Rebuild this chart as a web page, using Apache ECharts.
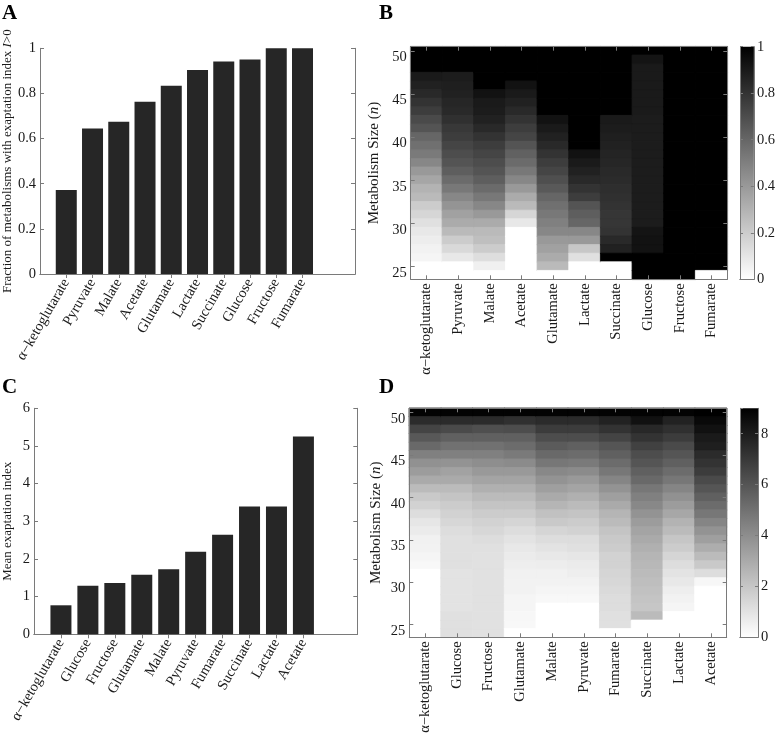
<!DOCTYPE html>
<html><head><meta charset="utf-8">
<script src="https://cdn.jsdelivr.net/npm/echarts@6/dist/echarts.min.js"></script>
<style>html,body{margin:0;padding:0;background:#fff}#c{width:778px;height:736px}</style>
</head><body><div id="c"></div>
<script>
// ---------- Panel A: fraction of metabolisms with I>0 ----------
const namesA = ['α−ketoglutarate','Pyruvate','Malate','Acetate','Glutamate','Lactate','Succinate','Glucose','Fructose','Fumarate'];
const fractionA = [0.372,0.645,0.675,0.763,0.834,0.904,0.941,0.95,1.0,1.0];
const ticksA = [0,0.2,0.4,0.6,0.8,1];

// ---------- Panel C: mean exaptation index ----------
const namesC = ['α−ketoglutarate','Glucose','Fructose','Glutamate','Malate','Pyruvate','Fumarate','Succinate','Lactate','Acetate'];
const meanC = [0.77,1.29,1.36,1.58,1.73,2.19,2.64,3.39,3.39,5.25];
const ticksC = [0,1,2,3,4,5,6];

// ---------- Metabolism sizes (rows, top to bottom) ----------
const sizes = [50,49,48,47,46,45,44,43,42,41,40,39,38,37,36,35,34,33,32,31,30,29,28,27,26,25,24];
const sizeTicks = [25,30,35,40,45,50];

// ---------- Panel B: fraction per size (columns in namesA order, rows n=50..24) ----------
const b_aKG      = [1,1,1,0.9,0.87,0.84,0.8,0.76,0.71,0.67,0.6,0.56,0.52,0.47,0.4,0.35,0.3,0.27,0.2,0.16,0.12,0.09,0.07,0.05,0.04,0,0];
const b_Pyruvate = [1,1,1,0.89,0.88,0.87,0.85,0.84,0.81,0.78,0.76,0.73,0.7,0.67,0.63,0.58,0.53,0.47,0.42,0.37,0.33,0.27,0.2,0.15,0.09,0,0];
const b_Malate   = [1,1,1,1,1,0.93,0.9,0.89,0.87,0.84,0.8,0.76,0.73,0.7,0.67,0.63,0.58,0.53,0.47,0.4,0.33,0.27,0.25,0.2,0.13,0.06,0];
const b_Acetate  = [1,1,1,1,0.93,0.9,0.87,0.84,0.8,0.76,0.73,0.67,0.62,0.58,0.53,0.47,0.4,0.33,0.27,0.16,0.09,0,0,0,0,0,0];
const b_Glutamate= [1,1,1,1,1,1,1,1,0.93,0.9,0.87,0.84,0.8,0.76,0.73,0.69,0.65,0.6,0.56,0.53,0.5,0.47,0.4,0.37,0.33,0.27,0];
const b_Lactate  = [1,1,1,1,1,1,1,1,1,1,1,1,0.93,0.9,0.87,0.84,0.8,0.76,0.67,0.63,0.6,0.47,0.4,0.22,0.12,0,0];
const b_Succinate= [1,1,1,1,1,1,1,1,0.9,0.89,0.88,0.87,0.86,0.85,0.84,0.83,0.82,0.81,0.8,0.79,0.79,0.8,0.84,0.87,1,0,0];
const b_Glucose  = [1,0.92,0.9,0.9,0.9,0.9,0.9,0.9,0.89,0.89,0.89,0.89,0.89,0.89,0.89,0.89,0.89,0.89,0.89,0.89,0.89,0.92,0.93,0.93,1,1,1];
const b_Fructose = [1,1,1,1,1,1,1,1,1,1,1,1,1,1,1,1,1,1,1,1,1,1,1,1,1,1,1];
const b_Fumarate = [1,1,1,1,1,1,1,1,1,1,1,1,1,1,1,1,1,1,1,1,1,1,1,1,1,1,0];
const cbMaxB = 1;
const cbTicksB = [0,0.2,0.4,0.6,0.8,1];

// ---------- Panel D: mean index per size (columns in namesC order, rows n=50..24) ----------
const d_aKG      = [8.9,7.5,6.6,5.9,5.3,4.5,3.9,3.5,3.0,2.4,1.9,1.6,1.2,0.9,0.7,0.5,0.45,0.35,0.25,0,0,0,0,0,0,0,0];
const d_Glucose  = [8.9,7.5,6.4,5.6,5.0,4.5,3.8,3.3,3.0,2.4,2.1,1.8,1.6,1.4,1.2,1.1,1.1,1.1,1.1,1.0,1.0,1.0,1.0,1.0,1.1,1.1,1.1];
const d_Fructose = [8.9,7.5,6.2,5.6,5.0,4.5,4.0,3.6,3.2,2.8,2.4,2.1,1.8,1.6,1.4,1.2,1.1,1.05,1.05,1.05,1.05,1.05,1.05,1.05,1.05,1.05,1.05];
const d_Glutamate= [8.9,7.3,6.3,5.6,5.2,4.7,4.1,3.6,3.2,2.8,2.4,2.1,1.8,1.5,1.2,1.0,0.8,0.7,0.6,0.5,0.45,0.45,0.35,0.35,0.3,0.25,0];
const d_Malate   = [8.9,7.5,6.9,6.3,5.8,5.3,4.8,4.2,3.8,3.4,3.0,2.6,2.2,1.9,1.5,1.2,1.0,0.8,0.65,0.5,0.45,0.35,0.25,0,0,0,0];
const d_Pyruvate = [8.9,7.5,6.9,6.3,5.6,5.2,4.7,4.1,3.6,3.2,2.8,2.4,2.1,1.8,1.6,1.2,1.1,0.9,0.7,0.6,0.45,0.35,0.25,0,0,0,0];
const d_Fumarate = [8.9,7.8,7.2,6.6,6.0,5.6,5.2,4.8,4.3,3.8,3.4,3.0,2.6,2.4,2.1,1.9,1.8,1.6,1.6,1.5,1.4,1.3,1.2,1.2,1.1,1.1,0];
const d_Succinate= [8.9,8.4,7.6,7.2,6.7,6.3,6.0,5.6,5.3,4.8,4.5,4.2,3.8,3.5,3.2,3.0,2.8,2.6,2.5,2.4,2.3,2.2,2.1,2.0,2.4,0,0];
const d_Lactate  = [8.9,7.8,7.3,6.9,6.4,6.0,5.6,5.2,4.8,4.3,3.9,3.5,3.1,2.7,2.4,2.0,1.8,1.5,1.2,1.0,0.8,0.6,0.45,0.35,0,0,0];
const d_Acetate  = [9.0,8.7,8.4,8.1,7.9,7.5,7.2,6.9,6.4,6.0,5.6,5.2,4.8,4.3,3.8,3.4,2.9,2.4,1.9,1.2,0.3,0,0,0,0,0,0];
const cbMaxD = 9;
const cbTicksD = [0,2,4,6,8];

// ---------- styling ----------
const FONT = 'Liberation Serif';
const AX = '#7a7a7a';
const TXT = '#1a1a1a';
const FS = 14.5;

const colsB = [b_aKG,b_Pyruvate,b_Malate,b_Acetate,b_Glutamate,b_Lactate,b_Succinate,b_Glucose,b_Fructose,b_Fumarate];
const colsD = [d_aKG,d_Glucose,d_Fructose,d_Glutamate,d_Malate,d_Pyruvate,d_Fumarate,d_Succinate,d_Lactate,d_Acetate];
// cell border painted in the cell's own grey so that neighbouring cells leave no hairline seams
function seamColor(v, max){ const g = Math.round(255 * (1 - Math.min(v / max, 1))); return 'rgb(' + g + ',' + g + ',' + g + ')'; }
function cells(cols, max){
  const out = [];
  cols.forEach((col, c) => col.forEach((v, k) => out.push({value:[c, k, v], itemStyle:{borderColor:seamColor(v, max), borderWidth:0.8}})));
  return out;
}

const grids = [
  {left:36.7, top:48.3, width:318.3, height:225.7},   // A
  {left:410.7, top:46.7, width:316.6, height:232.6},  // B
  {left:740, top:46.7, width:17.7, height:232.6},     // B colorbar
  {left:33.3, top:408.3, width:324, height:226},      // C
  {left:409.3, top:408.3, width:317.4, height:229},   // D
  {left:740, top:408.3, width:18, height:229}         // D colorbar
];

const line = {show:true, lineStyle:{color:AX, width:1}};
const lbl = (extra) => Object.assign({fontFamily:FONT, fontSize:FS, color:TXT}, extra);

function barX(gi, names, pos, showLabels){
  return {type:'category', gridIndex:gi, position:pos, data:['',...names,'',''], boundaryGap:false,
    axisLine:line,
    axisTick:{show:true, inside:true, length:4, interval:(i)=>i>=1 && i<=names.length, lineStyle:{color:AX}},
    axisLabel:lbl({show:showLabels, interval:0, rotate:60, margin:6}),
    splitLine:{show:false}};
}
function valY(gi, pos, ticks, showLabels, name, nameGap, nameSize){
  const o = {type:'value', gridIndex:gi, position:pos, min:ticks[0], max:ticks[ticks.length-1], interval:ticks[1]-ticks[0],
    axisLine:line,
    axisTick:{show:true, inside:true, length:4, lineStyle:{color:AX}},
    axisLabel:lbl({show:showLabels, margin:4}),
    splitLine:{show:false}};
  if (name){
    o.name = name; o.nameLocation='middle'; o.nameGap=nameGap;
    o.nameTextStyle = {fontFamily:FONT, fontSize:nameSize, color:TXT,
      rich:{it:{fontFamily:FONT, fontSize:nameSize, fontStyle:'italic', color:TXT}}};
  }
  return o;
}
function heatX(gi, names, pos, showLabels){
  return {type:'category', gridIndex:gi, position:pos, data:names,
    axisLine:line,
    axisTick:{show:true, inside:true, length:4, interval:0, alignWithLabel:true, lineStyle:{color:AX}},
    axisLabel:lbl({show:showLabels, interval:0, rotate:90, margin:4}),
    splitLine:{show:false}, z:5};
}
function heatY(gi, pos, showLabels, name, nameGap){
  const f = (i, v) => sizeTicks.indexOf(Number(v)) >= 0;
  const o = {type:'category', gridIndex:gi, position:pos, data:sizes, inverse:true,
    axisLine:line,
    axisTick:{show:true, inside:true, length:4, interval:f, alignWithLabel:true, lineStyle:{color:AX}},
    axisLabel:lbl({show:showLabels, interval:f, margin:4, verticalAlign:'top', lineHeight:13}),
    splitLine:{show:false}, z:5};
  if (name){
    o.name = name; o.nameLocation='middle'; o.nameGap=nameGap;
    o.nameTextStyle = {fontFamily:FONT, fontSize:15, color:TXT,
      rich:{it:{fontFamily:FONT, fontSize:15, fontStyle:'italic', color:TXT}}};
  }
  return o;
}
function cbX(gi, pos){
  return {type:'category', gridIndex:gi, position:pos, data:['cb'], axisLine:line,
    axisTick:{show:false}, axisLabel:{show:false}, splitLine:{show:false}, z:5};
}
function cbY(gi, pos, ticks, max, showLabels){
  return {type:'value', gridIndex:gi, position:pos, min:0, max:max, interval:ticks[1]-ticks[0],
    axisLine:line,
    axisTick:{show:true, inside:true, length:3, lineStyle:{color:AX}},
    axisLabel:lbl({show:showLabels, margin:3, showMaxLabel: ticks[ticks.length-1] === max}),
    splitLine:{show:false}, z:5};
}

const xAxis = [
  barX(0, namesA, 'bottom', true), barX(0, namesA, 'top', false),
  heatX(1, namesA, 'bottom', true), heatX(1, namesA, 'top', false),
  cbX(2,'bottom'), cbX(2,'top'),
  barX(3, namesC, 'bottom', true), barX(3, namesC, 'top', false),
  heatX(4, namesC, 'bottom', true), heatX(4, namesC, 'top', false),
  cbX(5,'bottom'), cbX(5,'top')
];
const yAxis = [
  valY(0,'left',ticksA,true,'Fraction of metabolisms with exaptation index {it|I}>0',24,13), valY(0,'right',ticksA,false),
  heatY(1,'left',true,'Metabolism Size ({it|n})',29), heatY(1,'right',false),
  cbY(2,'left',cbTicksB,cbMaxB,false), cbY(2,'right',cbTicksB,cbMaxB,true),
  valY(3,'left',ticksC,true,'Mean exaptation index',20,13), valY(3,'right',ticksC,false),
  heatY(4,'left',true,'Metabolism Size ({it|n})',26), heatY(4,'right',false),
  cbY(5,'left',cbTicksD,cbMaxD,false), cbY(5,'right',cbTicksD,cbMaxD,true)
];

const grad = () => new echarts.graphic.LinearGradient(0,0,0,1,[{offset:0,color:'#000000'},{offset:1,color:'#ffffff'}]);

const option = {
  animation:false,
  backgroundColor:'#ffffff',
  grid: grids,
  xAxis, yAxis,
  visualMap:[
    {type:'continuous', show:false, seriesIndex:1, dimension:2, min:0, max:cbMaxB, inRange:{color:['#ffffff','#000000']}},
    {type:'continuous', show:false, seriesIndex:4, dimension:2, min:0, max:cbMaxD, inRange:{color:['#ffffff','#000000']}}
  ],
  series:[
    {type:'bar', xAxisIndex:0, yAxisIndex:0, data:['-',...fractionA,'-','-'], barWidth:21, itemStyle:{color:'#262626'}, silent:true},
    {type:'heatmap', xAxisIndex:2, yAxisIndex:2, data:cells(colsB, cbMaxB), silent:true, progressive:0},
    {type:'bar', xAxisIndex:4, yAxisIndex:4, data:[cbMaxB], barWidth:'100%', itemStyle:{color:grad()}, silent:true},
    {type:'bar', xAxisIndex:6, yAxisIndex:6, data:['-',...meanC,'-','-'], barWidth:21, itemStyle:{color:'#262626'}, silent:true},
    {type:'heatmap', xAxisIndex:8, yAxisIndex:8, data:cells(colsD, cbMaxD), silent:true, progressive:0},
    {type:'bar', xAxisIndex:10, yAxisIndex:10, data:[cbMaxD], barWidth:'100%', itemStyle:{color:grad()}, silent:true}
  ],
  graphic:[
    {type:'text', left:2, top:3, style:{text:'A', font:'bold 21px "Liberation Serif"', fill:'#000'}},
    {type:'text', left:379, top:3, style:{text:'B', font:'bold 21px "Liberation Serif"', fill:'#000'}},
    {type:'text', left:2, top:377, style:{text:'C', font:'bold 21px "Liberation Serif"', fill:'#000'}},
    {type:'text', left:379, top:377, style:{text:'D', font:'bold 21px "Liberation Serif"', fill:'#000'}}
  ]
};
const chart = echarts.init(document.getElementById('c'));
chart.setOption(option);
</script>
</body></html>
